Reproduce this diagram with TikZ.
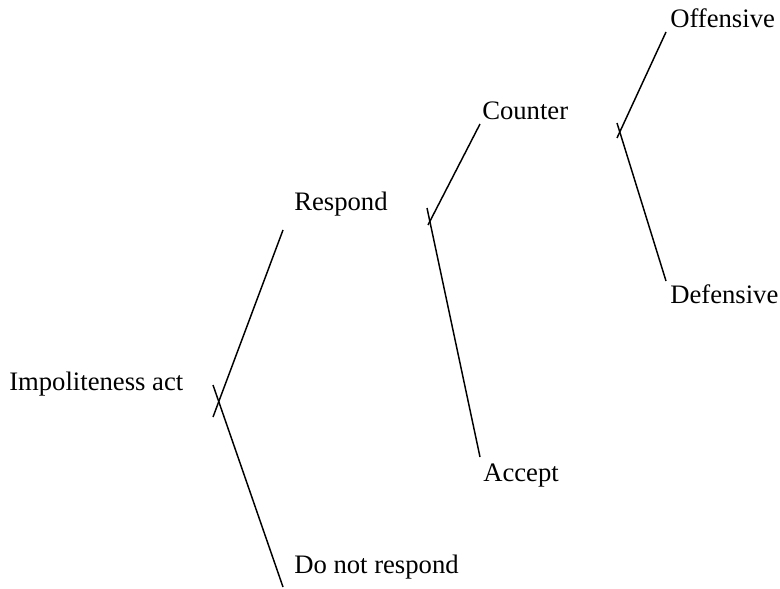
\documentclass[tikz,border=0pt]{standalone}
\usepackage{fontspec}
\setmainfont{Liberation Serif}
\begin{document}
\begin{tikzpicture}[x=0.75pt,y=-0.75pt,
  lbl/.style={anchor=base west,inner sep=0pt,font=\fontsize{20}{24}\selectfont},
  br/.style={line width=1.1pt,line cap=butt}]
\useasboundingbox (0,0) rectangle (780,588);
% labels
\node[lbl] (imp) at (9,390) {Impoliteness act};
\node[lbl] (resp) at (294,210) {Respond};
\node[lbl] (dnr) at (294,573) {Do not respond};
\node[lbl] (count) at (482,120) {Counter};
\node[lbl] (acc) at (483,481) {Accept};
\node[lbl] (off) at (670,28) {Offensive};
\node[lbl] (def) at (670,303) {Defensive};
% bracket endpoints
\coordinate (a1) at (283,230);
\coordinate (a2) at (213,417);
\coordinate (a3) at (213,385);
\coordinate (a4) at (283,587);
\coordinate (b1) at (480,124);
\coordinate (b2) at (428,225);
\coordinate (b3) at (427,208);
\coordinate (b4) at (480,457);
\coordinate (c1) at (666,32);
\coordinate (c2) at (617,138);
\coordinate (c3) at (617,123);
\coordinate (c4) at (666,281);
\draw[br] (a1) -- (a2);
\draw[br] (a3) -- (a4);
\draw[br] (b1) -- (b2);
\draw[br] (b3) -- (b4);
\draw[br] (c1) -- (c2);
\draw[br] (c3) -- (c4);
\end{tikzpicture}
\end{document}
